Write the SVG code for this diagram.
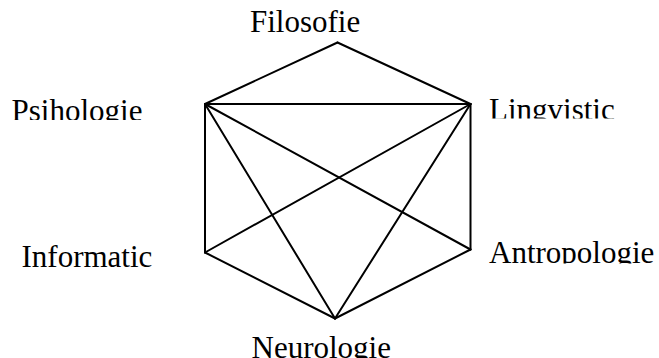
<svg xmlns="http://www.w3.org/2000/svg" width="659" height="358" viewBox="0 0 659 358">
<style>
.lbl{font-family:"Liberation Serif","Times New Roman",serif;font-size:31px;fill:#000}
.edge{stroke:#000;stroke-width:2;fill:none;stroke-linecap:round}
</style>
<defs>
<clipPath id="cPsi"><rect x="0" y="80" width="200" height="40"/></clipPath>
<clipPath id="cLin"><rect x="480" y="80" width="179" height="38.5"/></clipPath>
<clipPath id="cAnt"><rect x="480" y="225" width="179" height="38.5"/></clipPath>
<clipPath id="cNeu"><rect x="240" y="325" width="170" height="33"/></clipPath>
</defs>
<rect width="659" height="358" fill="#fff"/>
<g id="connectors">
<line class="edge" x1="205" y1="104" x2="337.5" y2="42.5"/>
<line class="edge" x1="337.5" y1="42.5" x2="470.5" y2="104"/>
<line class="edge" x1="205" y1="104" x2="470.5" y2="104"/>
<line class="edge" x1="205" y1="104" x2="205" y2="252.5"/>
<line class="edge" x1="470.5" y1="104" x2="470.5" y2="249.5"/>
<line class="edge" x1="205" y1="104" x2="335" y2="318.5"/>
<line class="edge" x1="205" y1="104" x2="470.5" y2="249.5"/>
<line class="edge" x1="470.5" y1="104" x2="205" y2="252.5"/>
<line class="edge" x1="470.5" y1="104" x2="335" y2="318.5"/>
<line class="edge" x1="205" y1="252.5" x2="335" y2="318.5"/>
<line class="edge" x1="470.5" y1="249.5" x2="335" y2="318.5"/>
</g>
<g id="filosofie"><text class="lbl" x="250" y="32">Filosofie</text></g>
<g id="psihologie" clip-path="url(#cPsi)"><text class="lbl" x="11.5" y="120.5">Psihologie</text></g>
<g id="lingvistic" clip-path="url(#cLin)"><text class="lbl" x="489" y="120">Lingvistic</text></g>
<g id="informatic"><text class="lbl" x="21.5" y="266.5">Informatic</text></g>
<g id="antropologie" clip-path="url(#cAnt)"><text class="lbl" x="489" y="262.5">Antropologie</text></g>
<g id="neurologie" clip-path="url(#cNeu)"><text class="lbl" x="251.5" y="357.5">Neurologie</text></g>
</svg>
